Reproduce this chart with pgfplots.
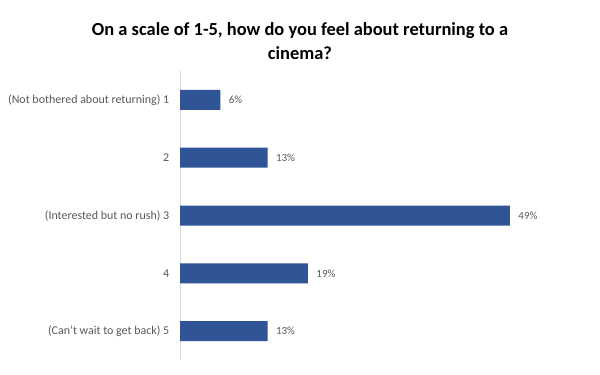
\documentclass[border=0pt]{standalone}
\usepackage{fontspec}
\setmainfont{Carlito}
\usepackage{pgfplots}
\pgfplotsset{compat=1.18}
\definecolor{barblue}{HTML}{2F5597}
\definecolor{labgray}{HTML}{595959}
\definecolor{axgray}{HTML}{D9D9D9}
\begin{document}
\begin{tikzpicture}[x=1bp,y=1bp]
\fill[white] (0,0) rectangle (600,374);
\node[align=center,font=\fontsize{18.5}{23.5}\selectfont\bfseries,text=black] at (300,333) {On a scale of 1-5, how do you feel about returning to a\\cinema?};
\begin{axis}[
  at={(180bp,14bp)}, anchor=south west,
  scale only axis, width=404bp, height=289bp,
  xbar, bar width=20bp,
  xmin=0, xmax=60, ymin=0.5, ymax=5.5,
  y dir=reverse,
  axis x line=none,
  axis y line*=left,
  y axis line style={draw=axgray, line width=0.8pt, -},
  ytick={1,2,3,4,5},
  yticklabels={(Not bothered about returning) 1, 2, (Interested but no rush) 3, 4, (Can't wait to get back) 5},
  ytick style={draw=none},
  yticklabel style={font=\fontsize{12}{14}\selectfont, text=labgray, xshift=-3bp},
  /pgf/number format/assume math mode=true,
  nodes near coords={\pgfmathprintnumber{\pgfplotspointmeta}\%},
  nodes near coords style={font=\fontsize{11}{13}\selectfont, text=labgray, anchor=west, xshift=5bp},
]
\addplot[fill=barblue, draw=none] coordinates {(6,1) (13,2) (49,3) (19,4) (13,5)};
\end{axis}
\end{tikzpicture}
\end{document}
